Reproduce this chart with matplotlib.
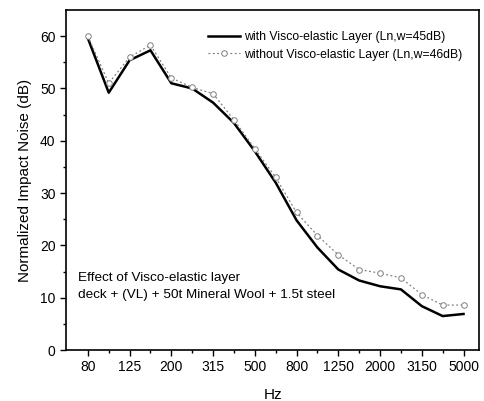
import matplotlib
matplotlib.use("Agg")
import matplotlib.pyplot as plt
import numpy as np

plt.rcParams['font.family'] = ['Liberation Sans', 'DejaVu Sans']

# 1/3 octave band centre frequencies
freqs = ["80", "100", "125", "160", "200", "250", "315", "400", "500", "630",
         "800", "1000", "1250", "1600", "2000", "2500", "3150", "4000", "5000"]
with_vl = [59.6, 49.2, 55.4, 57.3, 51.0, 50.0, 47.3, 43.4, 38.0, 32.0,
           24.8, 19.6, 15.4, 13.3, 12.2, 11.6, 8.4, 6.5, 6.9]
without_vl = [60.0, 51.0, 56.0, 58.3, 52.0, 50.2, 49.0, 44.0, 38.5, 33.0,
              26.3, 21.9, 18.2, 15.4, 14.7, 13.8, 10.6, 8.6, 8.6]
label_every = 2

fig = plt.figure(figsize=(4.85, 4.01), dpi=100)
ax = fig.add_axes([0.136, 0.127, 0.852, 0.848])

x = np.arange(len(freqs))
ax.plot(x, with_vl, color="black", lw=1.8,
        label="with Visco-elastic Layer (Ln,w=45dB)")
ax.plot(x, without_vl, color="#808080", lw=0.9, ls=(0, (1.5, 2)),
        marker="o", ms=4, mfc="white", mec="#808080", mew=0.7,
        label="without Visco-elastic Layer (Ln,w=46dB)")

ax.set_xlim(-1.05, 18.75)
ax.set_ylim(0, 65)
ax.set_xticks(x[::label_every])
ax.set_xticklabels(freqs[::label_every])
ax.set_xticks(x[1::label_every], minor=True)
ax.set_yticks(np.arange(0, 61, 10))
ax.set_yticks(np.arange(5, 65, 10), minor=True)
ax.tick_params(direction="out", length=4, width=1, labelsize=10)
ax.tick_params(which="minor", direction="out", length=2.5, width=1)
for s in ax.spines.values():
    s.set_linewidth(1.2)

ax.set_xlabel("Hz", fontsize=11, labelpad=10)
ax.set_ylabel("Normalized Impact Noise (dB)", fontsize=11, labelpad=6)

ax.legend(loc="upper right", bbox_to_anchor=(1.0, 0.988), fontsize=8.8,
          frameon=False, handlelength=2.6, borderaxespad=1.2,
          handletextpad=0.3, labelspacing=0.45, borderpad=0.2)

ax.text(0.03, 0.23, "Effect of Visco-elastic layer\ndeck + (VL) + 50t Mineral Wool + 1.5t steel",
        transform=ax.transAxes, fontsize=9.7, va="top", linespacing=1.55)

fig.savefig("out.png", dpi=100)
